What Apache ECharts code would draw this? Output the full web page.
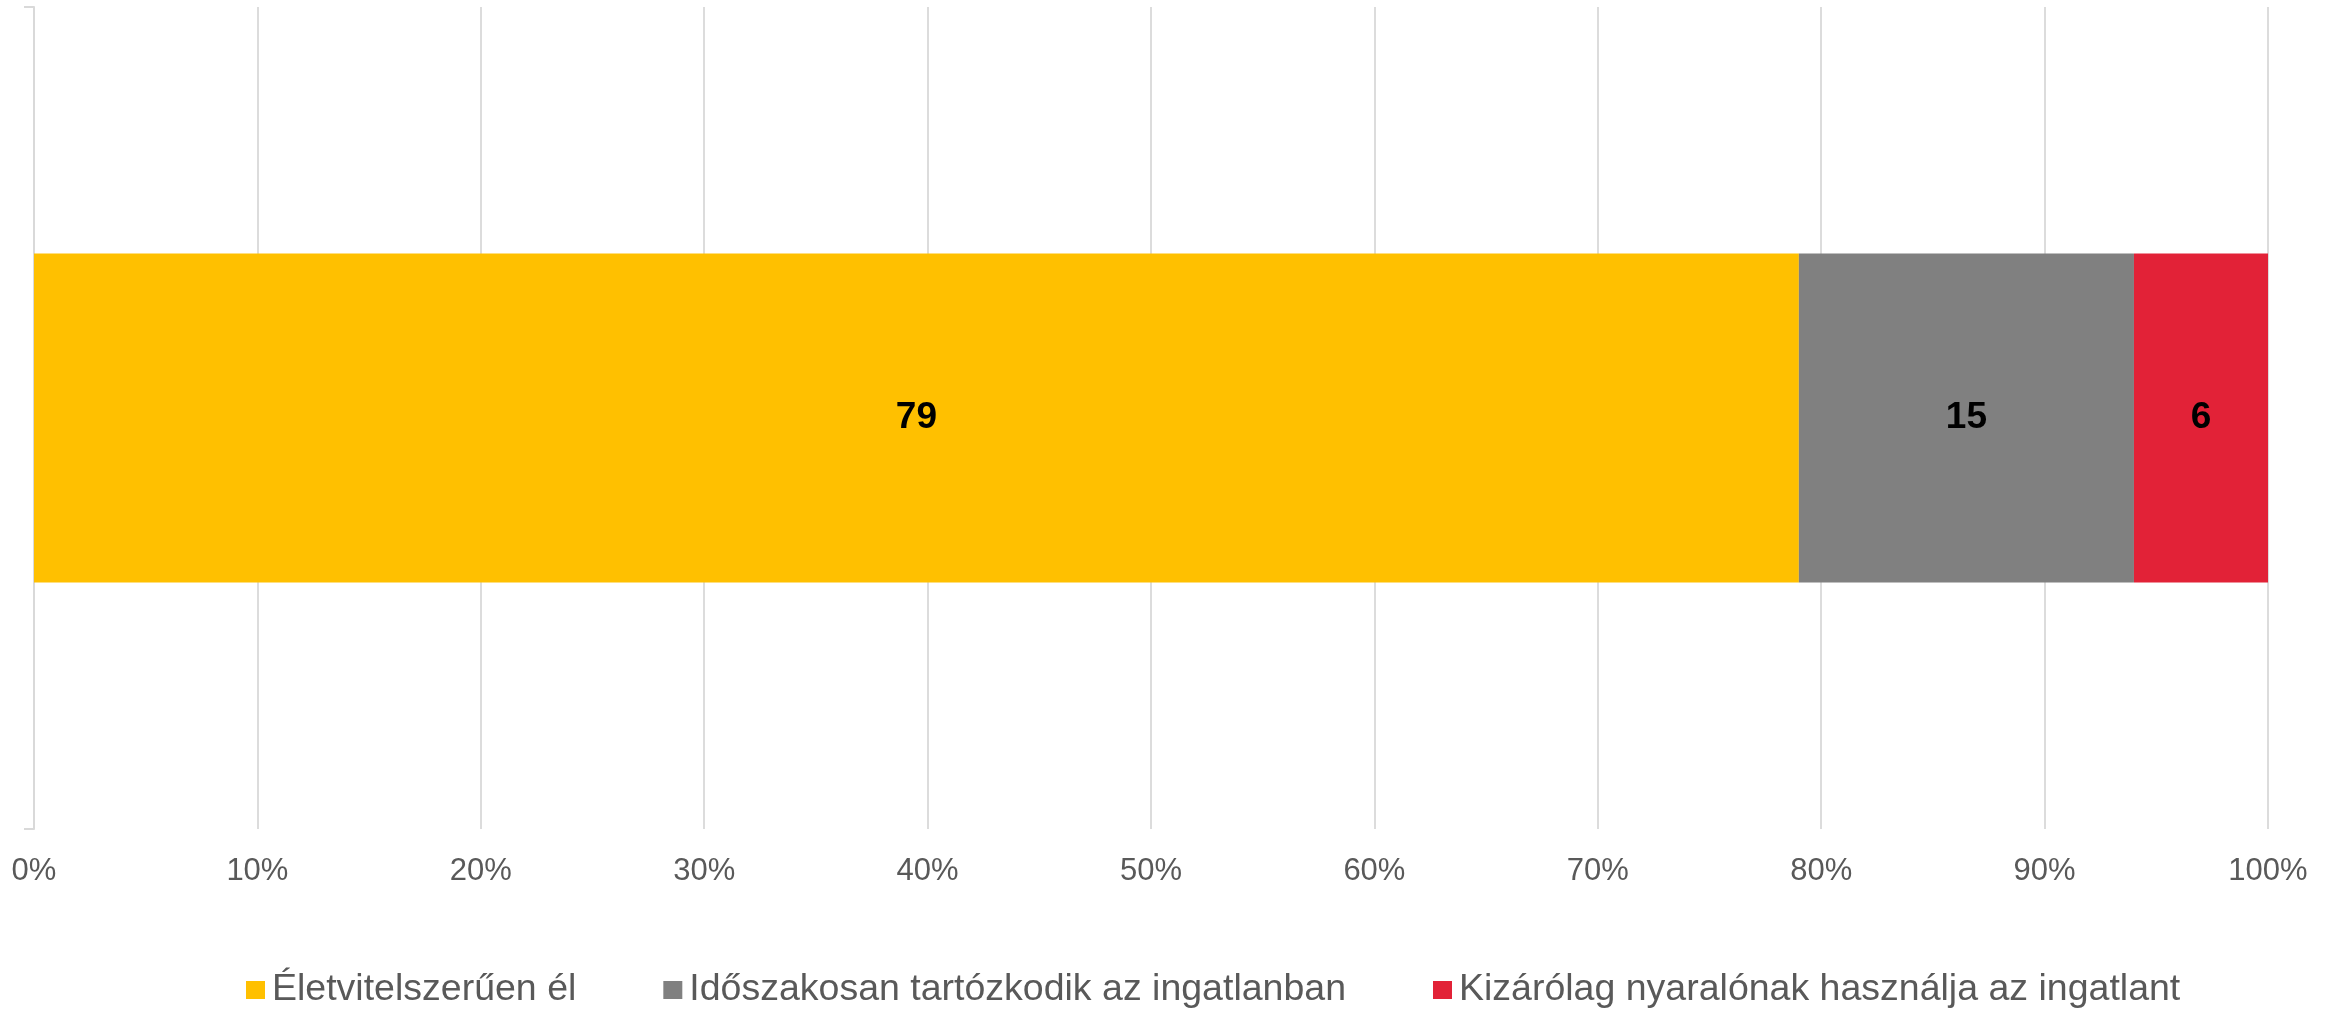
<!DOCTYPE html>
<html>
<head>
<meta charset="utf-8">
<script src="https://cdn.jsdelivr.net/npm/echarts@6/dist/echarts.min.js"></script>
<style>
  html, body { margin: 0; padding: 0; background: #fff; }
  #chart { width: 2335px; height: 1009px; }
</style>
</head>
<body>
<div id="chart"></div>
<script>
const categories = ['']
const seriesNames = ['Életvitelszerűen él', 'Időszakosan tartózkodik az ingatlanban', 'Kizárólag nyaralónak használja az ingatlant']
const lakik = [79]
const idoszakosan = [15]
const nyaralo = [6]
const seriesColors = ['#FFC000', '#808080', '#E22237']

const font = 'Liberation Sans, Arial, sans-serif'
const chart = echarts.init(document.getElementById('chart'))

const makeSeries = (name, data, color) => ({
  name: name,
  type: 'bar',
  stack: 'total',
  barWidth: '40%',
  data: data,
  itemStyle: { color: color },
  label: {
    show: true,
    position: 'inside',
    color: '#000',
    fontWeight: 'bold',
    fontSize: 37,
    fontFamily: font
  },
  animation: false
})

chart.setOption({
  backgroundColor: '#fff',
  grid: { left: 34, right: 67, top: 7, bottom: 180 },
  legend: {
    left: 241,
    top: 966,
    icon: 'rect',
    itemWidth: 19,
    itemHeight: 18,
    itemGap: 87,
    textStyle: { fontSize: 37.5, color: '#595959', fontFamily: font, padding: [0, 0, 0, 2] },
    data: seriesNames
  },
  xAxis: {
    type: 'value',
    min: 0,
    max: 100,
    interval: 10,
    axisLine: { show: false },
    axisTick: { show: false },
    splitLine: { show: true, lineStyle: { color: '#dcdcdc', width: 2 } },
    axisLabel: {
      formatter: '{value}%',
      fontSize: 31,
      color: '#595959',
      fontFamily: font,
      margin: 27
    }
  },
  yAxis: {
    type: 'category',
    data: categories,
    axisLine: { show: true, lineStyle: { color: '#d9d9d9', width: 2 } },
    axisTick: { show: true, length: 10, lineStyle: { color: '#d9d9d9', width: 2 } },
    axisLabel: { show: false }
  },
  series: [
    makeSeries(seriesNames[0], lakik, seriesColors[0]),
    makeSeries(seriesNames[1], idoszakosan, seriesColors[1]),
    makeSeries(seriesNames[2], nyaralo, seriesColors[2])
  ]
})
</script>
</body>
</html>
